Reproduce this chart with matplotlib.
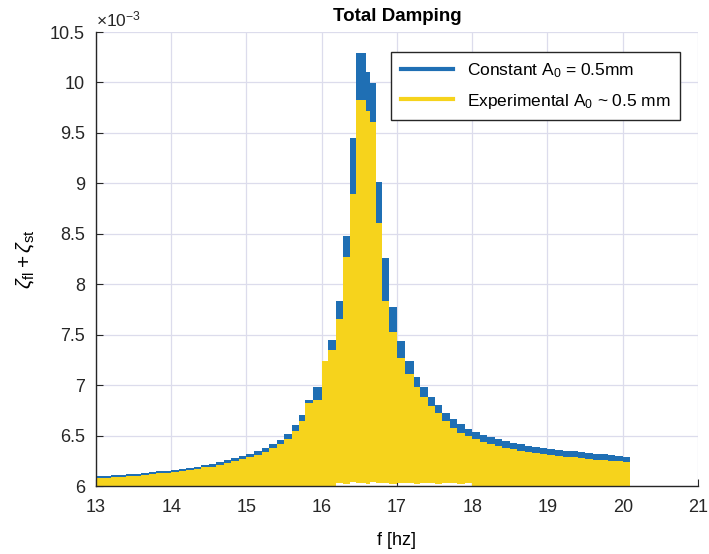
import numpy as np
import matplotlib
matplotlib.use("Agg")
import matplotlib.pyplot as plt
from matplotlib.lines import Line2D

plt.rcParams['font.family'] = ['Liberation Sans', 'DejaVu Sans']
plt.rcParams['mathtext.fontset'] = 'custom'
plt.rcParams['mathtext.rm'] = 'Liberation Sans'
plt.rcParams['mathtext.it'] = 'Liberation Sans:italic'

# left edge of each frequency step (Hz), last entry closes the final step
f = [13.0, 13.1, 13.2, 13.3, 13.4, 13.5, 13.6, 13.7, 13.8, 13.9,
     14.0, 14.1, 14.2, 14.3, 14.4, 14.5, 14.6, 14.7, 14.8, 14.9,
     15.0, 15.1, 15.2, 15.3, 15.4, 15.5, 15.6, 15.7,
     15.78, 15.89, 16.0, 16.09, 16.19, 16.28, 16.38, 16.46, 16.59, 16.64,
     16.72, 16.80, 16.90, 17.0, 17.11, 17.22, 17.31,
     17.41, 17.5, 17.6, 17.7, 17.8, 17.9, 18.0, 18.1, 18.2, 18.3,
     18.4, 18.5, 18.6, 18.7, 18.8, 18.9, 19.0, 19.1, 19.2, 19.3,
     19.4, 19.5, 19.6, 19.7, 19.8, 19.9, 20.0, 20.1]

# upper envelope of the damping (x 1e-3), constant amplitude
zeta_const = [6.10, 6.10, 6.11, 6.11, 6.12, 6.12, 6.13, 6.14, 6.15, 6.15,
              6.16, 6.17, 6.18, 6.19, 6.21, 6.22, 6.24, 6.26, 6.28, 6.30,
              6.32, 6.35, 6.38, 6.42, 6.46, 6.52, 6.60, 6.70,
              6.85, 6.98, 7.24, 7.45, 7.83, 8.48, 9.45, 10.29, 10.10, 9.99,
              9.01, 8.26, 7.77, 7.44, 7.24, 7.08, 6.98,
              6.88, 6.80, 6.72, 6.66, 6.61, 6.57, 6.54, 6.51, 6.49, 6.47,
              6.45, 6.43, 6.42, 6.40, 6.39, 6.38, 6.37, 6.36, 6.35, 6.35,
              6.34, 6.33, 6.32, 6.32, 6.31, 6.30, 6.29, 6.29]

# upper envelope, experimental amplitude
zeta_exp = [6.08, 6.08, 6.09, 6.09, 6.10, 6.10, 6.11, 6.12, 6.13, 6.13,
            6.14, 6.15, 6.16, 6.17, 6.19, 6.19, 6.21, 6.23, 6.25, 6.27,
            6.29, 6.31, 6.34, 6.38, 6.42, 6.47, 6.55, 6.64,
            6.82, 6.85, 7.24, 7.35, 7.66, 8.27, 8.89, 9.83, 9.72, 9.61,
            8.61, 7.83, 7.53, 7.27, 7.11, 6.98, 6.88,
            6.79, 6.72, 6.64, 6.58, 6.53, 6.50, 6.47, 6.44, 6.42, 6.40,
            6.38, 6.37, 6.35, 6.34, 6.33, 6.32, 6.31, 6.30, 6.29, 6.29,
            6.28, 6.27, 6.26, 6.26, 6.25, 6.25, 6.24, 6.24]

# lower envelope of the oscillation
zeta_low = [5.95, 5.95, 5.95, 5.95, 5.95, 5.95, 5.95, 5.95, 5.95, 5.95,
            5.95, 5.95, 5.95, 5.95, 5.95, 5.95, 5.95, 5.95, 5.95, 5.95,
            5.95, 5.95, 5.95, 5.95, 5.95, 5.95, 5.95, 5.95,
            5.95, 5.95, 5.95, 5.95, 6.03, 6.02, 6.04, 6.03, 6.02, 6.04,
            6.03, 6.03, 6.02, 6.03, 6.03, 6.02, 6.03,
            6.03, 6.02, 6.03, 6.03, 6.02, 6.03, 5.95, 5.95, 5.95, 5.95,
            5.95, 5.95, 5.95, 5.95, 5.95, 5.95, 5.95, 5.95, 5.95, 5.95,
            5.95, 5.95, 5.95, 5.95, 5.95, 5.95, 5.95, 5.95]

blue = '#1f6fb4'
yellow = '#f6d31c'

fig = plt.figure(figsize=(7.09, 5.54), dpi=100)
ax = fig.add_axes([0.1354, 0.1227, 0.849, 0.8195])

ax.fill_between(f, zeta_low, zeta_const, step='post', color=blue, lw=0)
ax.fill_between(f, zeta_low, zeta_exp, step='post', color=yellow, lw=0)

ax.set_xlim(13, 21)
ax.set_ylim(6, 10.5)
ax.set_xticks(range(13, 22))
ax.set_yticks([6, 6.5, 7, 7.5, 8, 8.5, 9, 9.5, 10, 10.5])
ax.set_yticklabels(['6', '6.5', '7', '7.5', '8', '8.5', '9', '9.5', '10', '10.5'])
ax.grid(True, color='#dcdcec', lw=0.9)
ax.set_axisbelow(True)
for s in ['top', 'right']:
    ax.spines[s].set_visible(False)
for s in ['left', 'bottom']:
    ax.spines[s].set_color('#262626')
    ax.spines[s].set_linewidth(1.0)
ax.tick_params(direction='in', length=5, labelsize=13, colors='#262626')
ax.tick_params(axis='y', pad=8)
ax.tick_params(axis='x', pad=9)

ax.set_title('Total Damping', fontsize=13.5, fontweight='bold', pad=8)
ax.set_xlabel('f [hz]', fontsize=13, labelpad=12)
ax.set_ylabel(r'$\zeta_{\mathrm{fl}} + \zeta_{\mathrm{st}}$', fontsize=15, labelpad=10)
ax.text(0.0, 1.006, r'$\times10^{-3}$', transform=ax.transAxes,
        fontsize=12.5, ha='left', va='bottom', color='#262626')

handles = [Line2D([0], [0], color=blue, lw=3),
           Line2D([0], [0], color=yellow, lw=3)]
leg = ax.legend(handles, ['Constant A$_0$ = 0.5mm', 'Experimental A$_0$ ~ 0.5 mm'],
                loc='upper right', bbox_to_anchor=(0.97, 0.956), borderaxespad=0,
                fontsize=12.5, fancybox=False, framealpha=1, handlelength=3.0,
                labelspacing=0.65, borderpad=0.55, edgecolor='#262626')
leg.get_frame().set_linewidth(1.0)

fig.savefig('out.png', dpi=100)
